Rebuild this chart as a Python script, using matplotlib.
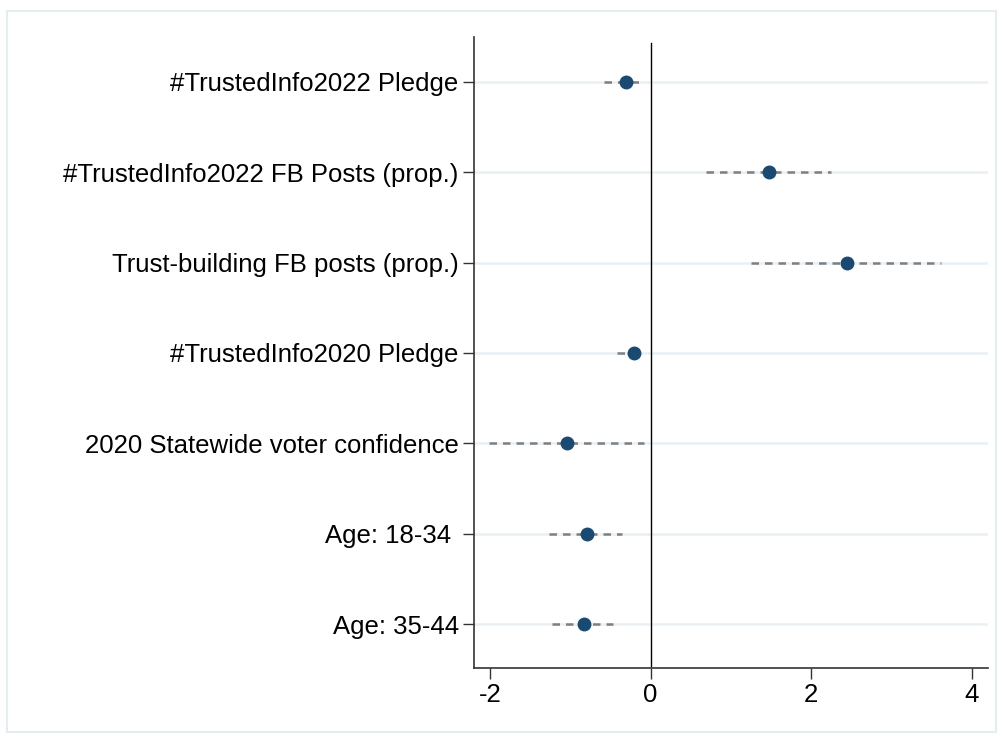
import matplotlib
matplotlib.use("Agg")
import matplotlib.pyplot as plt
from matplotlib.patches import Rectangle

# --- Data (coefficients with 95% CI) ---
labels = [
    "#TrustedInfo2022 Pledge",
    "#TrustedInfo2022 FB Posts (prop.)",
    "Trust-building FB posts (prop.)",
    "#TrustedInfo2020 Pledge",
    "2020 Statewide voter confidence",
    "Age: 18-34 ",
    "Age: 35-44",
]
coef = [-0.31, 1.47, 2.44, -0.21, -1.04, -0.79, -0.83]
ci_low = [-0.58, 0.69, 1.25, -0.42, -2.01, -1.26, -1.23]
ci_high = [-0.10, 2.24, 3.62, -0.08, -0.08, -0.36, -0.47]
xticks = [-2, 0, 2, 4]

plt.rcParams["font.family"] = ["Liberation Sans", "DejaVu Sans"]

fig = plt.figure(figsize=(10.03, 7.36), dpi=100)
ax = fig.add_axes([474 / 1003, 1 - 668 / 736, (988 - 474) / 1003, (668 - 37) / 736])

# outer light frame
fig.patches.append(Rectangle((7 / 1003, 1 - 732 / 736), 989 / 1003, 721 / 736,
                             transform=fig.transFigure, fill=False,
                             edgecolor="#e6edf1", linewidth=1.5))

ypos = list(range(1, len(labels) + 1))

for y in ypos:
    ax.axhline(y, color="#e8f0f4", linewidth=1.8, zorder=0)

ax.axvline(0, color="black", linewidth=1.0, ymin=0.003, ymax=0.99, zorder=1)

for y, lo, hi in zip(ypos, ci_low, ci_high):
    ax.plot([lo, hi], [y, y], color="#7f7f7f", linestyle=(0, (3, 2.4)),
            linewidth=1.8, zorder=2)
ax.plot(coef, ypos, "o", color="#1a4971", markersize=9, zorder=3)

ax.set_xlim(-2.2, 4.2)
ax.set_ylim(7.487, 0.502)
ax.set_xticks(xticks)
ax.set_xticklabels([str(t) for t in xticks])
ax.set_yticks(ypos)
ax.set_yticklabels(labels)

ax.tick_params(axis="y", length=8, width=1, pad=3, labelsize=18.5, color="#333333")
ax.tick_params(axis="x", length=8, width=1, pad=3, labelsize=18.5, color="#333333")

for side in ["top", "right"]:
    ax.spines[side].set_visible(False)
for side in ["left", "bottom"]:
    ax.spines[side].set_color("#333333")
    ax.spines[side].set_linewidth(1.2)

fig.savefig("out.png", dpi=100)
